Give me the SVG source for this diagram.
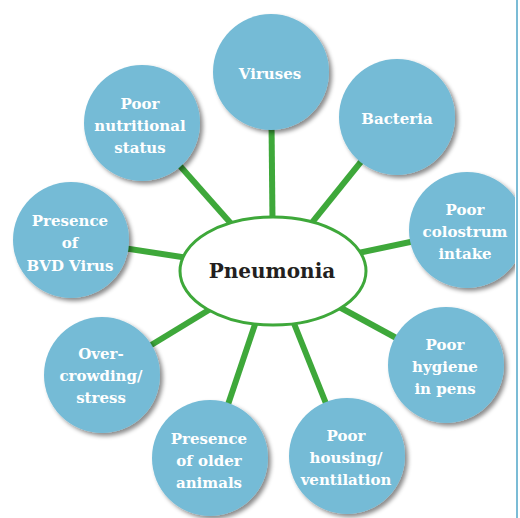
<svg xmlns="http://www.w3.org/2000/svg" width="520" height="518" viewBox="0 0 520 518">
<defs>
<filter id="sh" x="-20%" y="-20%" width="150%" height="150%">
<feDropShadow dx="3" dy="3" stdDeviation="2.2" flood-color="#000" flood-opacity="0.45"/>
</filter>
<clipPath id="page"><rect x="0" y="0" width="515" height="518"/></clipPath>
<style>
.c{fill:#75bbd6;filter:url(#sh)}
.t{font-family:"DejaVu Serif","Liberation Serif",serif;font-weight:bold;font-size:15px;fill:#fff;text-anchor:middle}
.l{stroke:#3ea83a;stroke-width:6;fill:none}
.hub{fill:#fff;stroke:#3ea83a;stroke-width:3}
.ht{font-family:"DejaVu Serif","Liberation Serif",serif;font-weight:bold;font-size:20px;fill:#231f20;text-anchor:middle}
</style>
</defs>
<rect width="520" height="518" fill="#fff"/>
<g clip-path="url(#page)">
<g id="connectors">
<line class="l" x1="271" y1="72" x2="273" y2="271"/>
<line class="l" x1="397" y1="117" x2="273" y2="271"/>
<line class="l" x1="142" y1="123" x2="273" y2="271"/>
<line class="l" x1="71" y1="240" x2="273" y2="271"/>
<line class="l" x1="467" y1="230" x2="273" y2="271"/>
<line class="l" x1="446" y1="365" x2="273" y2="271"/>
<line class="l" x1="102" y1="375" x2="273" y2="271"/>
<line class="l" x1="210" y1="458" x2="273" y2="271"/>
<line class="l" x1="347" y1="456" x2="273" y2="271"/>
</g>
<g id="pneumonia">
<ellipse class="hub" cx="273" cy="271" rx="93" ry="54"/>
<text class="ht" x="272" y="278">Pneumonia</text>
</g>
<g id="viruses">
<circle class="c" cx="271" cy="72" r="58"/>
<text class="t" x="270" y="79">Viruses</text>
</g>
<g id="bacteria">
<circle class="c" cx="397" cy="117" r="58"/>
<text class="t" x="397" y="124">Bacteria</text>
</g>
<g id="nutritional">
<circle class="c" cx="142" cy="123" r="58"/>
<text class="t" x="140" y="109">Poor</text>
<text class="t" x="140" y="131">nutritional</text>
<text class="t" x="140" y="153">status</text>
</g>
<g id="bvd">
<circle class="c" cx="71" cy="240" r="58"/>
<text class="t" x="70" y="226">Presence</text>
<text class="t" x="70" y="248">of</text>
<text class="t" x="70" y="271">BVD Virus</text>
</g>
<g id="colostrum">
<circle class="c" cx="467" cy="230" r="58"/>
<text class="t" x="465" y="215">Poor</text>
<text class="t" x="465" y="237">colostrum</text>
<text class="t" x="465" y="259">intake</text>
</g>
<g id="hygiene">
<circle class="c" cx="446" cy="365" r="58"/>
<text class="t" x="445" y="350">Poor</text>
<text class="t" x="445" y="372">hygiene</text>
<text class="t" x="445" y="394">in pens</text>
</g>
<g id="overcrowding">
<circle class="c" cx="102" cy="375" r="58"/>
<text class="t" x="101" y="359">Over-</text>
<text class="t" x="101" y="381">crowding/</text>
<text class="t" x="101" y="403">stress</text>
</g>
<g id="older">
<circle class="c" cx="210" cy="458" r="58"/>
<text class="t" x="209" y="444">Presence</text>
<text class="t" x="209" y="466">of older</text>
<text class="t" x="209" y="488">animals</text>
</g>
<g id="housing">
<circle class="c" cx="347" cy="456" r="58"/>
<text class="t" x="346" y="441">Poor</text>
<text class="t" x="346" y="463">housing/</text>
<text class="t" x="346" y="485">ventilation</text>
</g>
</g>
<line x1="517" y1="0" x2="517" y2="518" stroke="#7bbcd6" stroke-width="2"/>
</svg>
